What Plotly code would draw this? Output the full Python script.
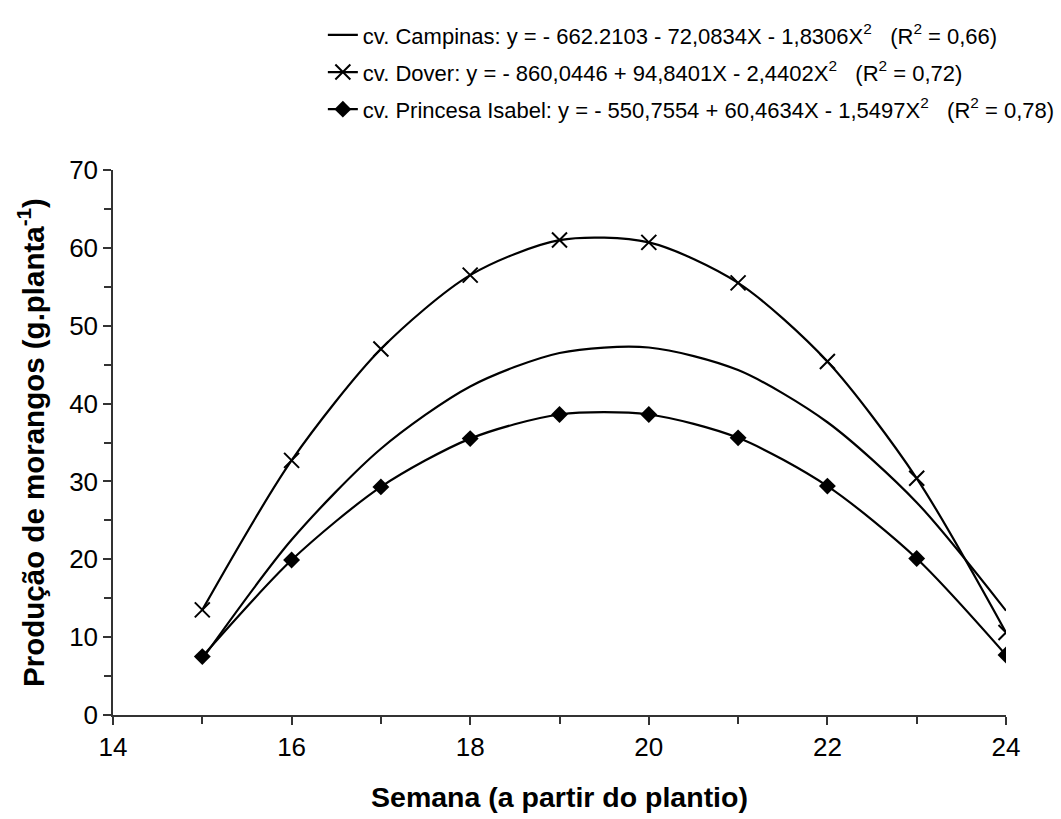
import plotly.graph_objects as go

weeks = [15, 16, 17, 18, 19, 20, 21, 22, 23, 24]
campinas = [7.2, 22.5, 34.2, 42.2, 46.5, 47.2, 44.3, 37.6, 27.3, 13.4]
dover = [13.5, 32.7, 47.0, 56.5, 61.0, 60.7, 55.5, 45.4, 30.4, 10.6]
princesa = [7.5, 19.9, 29.3, 35.5, 38.6, 38.6, 35.6, 29.4, 20.1, 7.7]

names = [
    "cv. Campinas: y = - 662.2103 - 72,0834X - 1,8306X<sup>2</sup>\u00a0\u00a0\u00a0(R<sup>2</sup> = 0,66)",
    "cv. Dover: y = - 860,0446 + 94,8401X - 2,4402X<sup>2</sup>\u00a0\u00a0\u00a0(R<sup>2</sup> = 0,72)",
    "cv. Princesa Isabel: y = - 550,7554 + 60,4634X - 1,5497X<sup>2</sup>\u00a0\u00a0\u00a0(R<sup>2</sup> = 0,78)",
]

FONT = "Liberation Sans, Arial, sans-serif"
LINE = dict(color="black", width=2.2, shape="spline", smoothing=0.8)

fig = go.Figure()
fig.add_trace(go.Scatter(x=weeks, y=campinas, name=names[0], mode="lines", line=LINE,
                         legendgroup="a"))
fig.add_trace(go.Scatter(x=weeks, y=dover, name=names[1], mode="lines+markers", line=LINE,
                         legendgroup="b",
                         marker=dict(symbol="x-thin", size=15, color="black",
                                     line=dict(color="black", width=2))))
fig.add_trace(go.Scatter(x=weeks, y=princesa, name=names[2], mode="lines+markers", line=LINE,
                         legendgroup="c",
                         marker=dict(symbol="diamond", size=13, color="black")))

AX = dict(showgrid=False, zeroline=False, showline=True, linecolor="#333", linewidth=1.5,
          ticks="outside", ticklen=8, tickwidth=1.5, tickcolor="#333",
          tickfont=dict(size=26), automargin=False)

fig.update_layout(
    width=1061, height=819,
    margin=dict(l=113, r=55, t=170, b=104, autoexpand=False),
    paper_bgcolor="white", plot_bgcolor="white",
    font=dict(family=FONT, size=22, color="black"),
    showlegend=True,
    legend=dict(x=0.235, y=1.286, xanchor="left", yanchor="top",
                font=dict(family=FONT, size=22, color="black"),
                bgcolor="rgba(0,0,0,0)", itemwidth=30, tracegroupgap=5.5),
    xaxis=dict(range=[14, 24], dtick=2, tick0=14,
               minor=dict(dtick=1, ticks="outside", ticklen=7, tickwidth=1.5, tickcolor="#333"),
               title=dict(text="<b>Semana (a partir do plantio)</b>", font=dict(size=28.5), standoff=26),
               **AX),
    yaxis=dict(range=[0, 70], dtick=10, tick0=0,
               minor=dict(dtick=5, ticks="outside", ticklen=7, tickwidth=1.5, tickcolor="#333"),
               title=dict(text="<b>Produção de morangos (g.planta<sup>-1</sup>)</b>", font=dict(size=29.5), standoff=16),
               **AX),
)

fig.write_html("out.html")
